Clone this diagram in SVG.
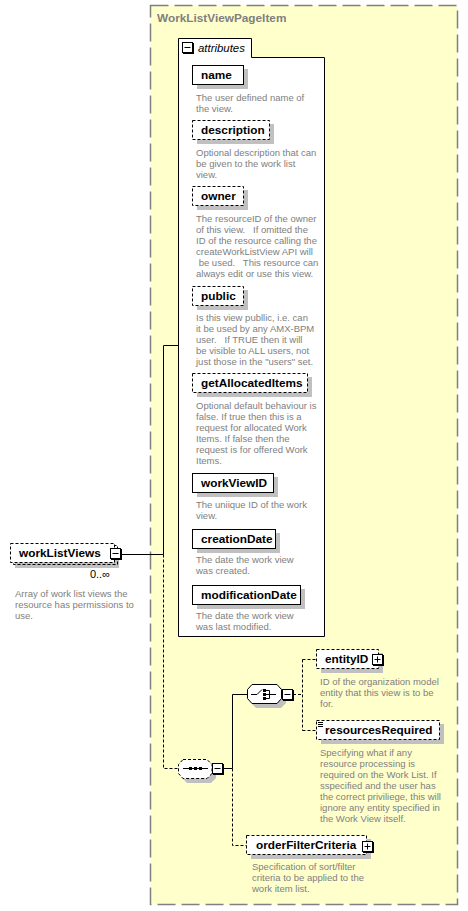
<svg xmlns="http://www.w3.org/2000/svg" xmlns:xlink="http://www.w3.org/1999/xlink" width="468" height="911" viewBox="0 0 468 911">
<style>
.lbl{font-family:"Liberation Sans",Arial,sans-serif;font-weight:bold;font-size:11.8px;fill:#000}
.desc{font-family:"Liberation Sans",Arial,sans-serif;font-size:9.5px;fill:#808080;white-space:pre}
.box{fill:#fff;stroke:#000;stroke-width:1}
.opt{stroke-dasharray:3,2}
.shadow{fill:#c0c0c0;stroke:none}
.ln{stroke:#000;fill:none}
.dln{stroke:#000;fill:none;stroke-dasharray:3,2}
</style>
<defs>
<g id="minus"><rect x="1" y="1" width="11" height="11" fill="#000"/><rect x="0.5" y="0.5" width="10" height="10" fill="#fff" stroke="#000"/><path d="M2.5,5.5H8.5" stroke="#000"/></g>
<g id="plus"><rect x="1" y="1" width="11" height="11" fill="#000"/><rect x="0.5" y="0.5" width="10" height="10" fill="#fff" stroke="#000"/><path d="M2.5,5.5H8.5M5.5,2.5V8.5" stroke="#000"/></g>
</defs>
<rect width="468" height="911" fill="#fff"/>
<g id="WorkListViewPageItem">
<rect x="150.5" y="5.5" width="307" height="899" fill="#FFFFCC" stroke="#808080" stroke-width="1.5" stroke-dasharray="18,6"/>
<text x="157" y="22" font-family="Liberation Sans,Arial,sans-serif" font-weight="bold" font-size="11.8" fill="#808080">WorkListViewPageItem</text>
</g>
<g id="connectors">
<path class="ln" d="M121,554.5H163.5V345.5H178"/>
<path class="dln" d="M163.5,554.5V768.5H178"/>
<path class="ln" d="M223,768.5H232.5V694.5H247"/>
<path class="dln" d="M232.5,768.5V845.5H247"/>
<path class="dln" d="M293,694.5H302.5M302.5,659.5V730.5M302.5,659.5H317M302.5,730.5H317"/>
</g>
<g id="attributes">
<path class="box" d="M178.5,636.5V38.5H251.5V57.5H324.5V636.5Z"/>
<use xlink:href="#minus" x="182" y="42"/>
<text x="198" y="52" font-family="Liberation Sans,Arial,sans-serif" font-style="italic" font-size="11.4" fill="#000">attributes</text>
</g>
<g id="attr-name">
<rect class="shadow" x="197" y="69" width="51" height="20"/>
<rect class="box" x="192.5" y="65.5" width="51" height="19"/>
<text class="lbl" x="201" y="79">name</text>
<text class="desc" x="196" y="100.5">The user defined name of</text>
<text class="desc" x="196" y="111.5">the view.</text>
</g>
<g id="attr-description">
<rect class="shadow" x="197" y="124" width="77" height="20"/>
<rect class="box opt" x="192.5" y="120.5" width="77" height="19"/>
<text class="lbl" x="201" y="134">description</text>
<text class="desc" x="196" y="155.5">Optional description that can</text>
<text class="desc" x="196" y="166.5">be given to the work list</text>
<text class="desc" x="196" y="177.5">view.</text>
</g>
<g id="attr-owner">
<rect class="shadow" x="197" y="190" width="51" height="20"/>
<rect class="box opt" x="192.5" y="186.5" width="51" height="19"/>
<text class="lbl" x="201" y="200">owner</text>
<text class="desc" x="196" y="221.5">The resourceID of the owner</text>
<text class="desc" x="196" y="232.5" xml:space="preserve">of this view.   If omitted the</text>
<text class="desc" x="196" y="243.5">ID of the resource calling the</text>
<text class="desc" x="196" y="254.5">createWorkListView API will</text>
<text class="desc" x="196" y="265.5" xml:space="preserve"> be used.   This resource can</text>
<text class="desc" x="196" y="276.5">always edit or use this view.</text>
</g>
<g id="attr-public">
<rect class="shadow" x="197" y="290" width="51" height="20"/>
<rect class="box opt" x="192.5" y="286.5" width="51" height="19"/>
<text class="lbl" x="201" y="300">public</text>
<text class="desc" x="196" y="320.5">Is this view publlic, i.e. can</text>
<text class="desc" x="196" y="331.5">it be used by any AMX-BPM</text>
<text class="desc" x="196" y="342.5" xml:space="preserve">user.   If TRUE then it will</text>
<text class="desc" x="196" y="353.5">be visible to ALL users, not</text>
<text class="desc" x="196" y="364.5">just those in the "users" set.</text>
</g>
<g id="attr-getAllocatedItems">
<rect class="shadow" x="197" y="377" width="115" height="20"/>
<rect class="box opt" x="192.5" y="373.5" width="115" height="19"/>
<text class="lbl" x="201" y="387">getAllocatedItems</text>
<text class="desc" x="196" y="408.5">Optional default behaviour is</text>
<text class="desc" x="196" y="419.5">false. If true then this is a</text>
<text class="desc" x="196" y="430.5">request for allocated Work</text>
<text class="desc" x="196" y="441.5">Items. If false then the</text>
<text class="desc" x="196" y="452.5">request is for offered Work</text>
<text class="desc" x="196" y="463.5">Items.</text>
</g>
<g id="attr-workViewID">
<rect class="shadow" x="197" y="477" width="81" height="20"/>
<rect class="box" x="192.5" y="473.5" width="81" height="19"/>
<text class="lbl" x="201" y="487">workViewID</text>
<text class="desc" x="196" y="507.5">The uniique ID of the work</text>
<text class="desc" x="196" y="518.5">view.</text>
</g>
<g id="attr-creationDate">
<rect class="shadow" x="197" y="533" width="83" height="20"/>
<rect class="box" x="192.5" y="529.5" width="83" height="19"/>
<text class="lbl" x="201" y="543">creationDate</text>
<text class="desc" x="196" y="563">The date the work view</text>
<text class="desc" x="196" y="574">was created.</text>
</g>
<g id="attr-modificationDate">
<rect class="shadow" x="197" y="589" width="108" height="20"/>
<rect class="box" x="192.5" y="585.5" width="108" height="19"/>
<text class="lbl" x="201" y="599">modificationDate</text>
<text class="desc" x="196" y="618.5">The date the work view</text>
<text class="desc" x="196" y="629.5">was last modified.</text>
</g>
<g id="workListViews">
<rect class="shadow" x="15" y="548" width="104" height="20"/>
<rect x="13.5" y="545.5" width="104" height="19" fill="none" stroke="#000" stroke-dasharray="3,2"/>
<rect class="box opt" x="10.5" y="543.5" width="104" height="19"/>
<text class="lbl" x="19" y="557">workListViews</text>
<use xlink:href="#minus" x="110" y="548"/>
<text x="110" y="578" text-anchor="end" font-family="Liberation Sans,Arial,sans-serif" font-size="11" fill="#000">0..∞</text>
<text class="desc" x="15" y="596.5">Array of work list views the</text>
<text class="desc" x="15" y="607.5">resource has permissions to</text>
<text class="desc" x="15" y="618.5">use.</text>
</g>
<g id="sequence">
<path class="shadow" d="M187,763H211L216,768V778L211,783H187L182,778V768Z"/>
<path class="box opt" d="M183,759.5H207L212,764.5V773.5L207,778.5H183L178.5,773.5V764.5Z"/>
<path class="ln" d="M183,768.5H208"/>
<rect x="189" y="767" width="3" height="3" fill="#000"/>
<rect x="194" y="767" width="3" height="3" fill="#000"/>
<rect x="199" y="767" width="3" height="3" fill="#000"/>
<use xlink:href="#minus" x="212" y="763"/>
</g>
<g id="choice">
<path class="shadow" d="M256,688H281L286,693V703L281,708H256L251,703V693Z"/>
<path class="box" d="M252,684.5H277L281.5,689.5V698.5L277,703.5H252L247.5,698.5V689.5Z"/>
<path class="ln" d="M251,694.5H257L262,689.5"/>
<rect x="263" y="689" width="3" height="3" fill="#000"/>
<rect x="263" y="693" width="3" height="3" fill="#000"/>
<rect x="263" y="697" width="3" height="3" fill="#000"/>
<path class="ln" d="M266,690.5H269.5V698.5H266M266,694.5H276"/>
<use xlink:href="#minus" x="282" y="689"/>
</g>
<g id="entityID">
<rect class="shadow" x="321" y="653" width="62" height="20"/>
<rect class="box opt" x="316.5" y="649.5" width="62" height="19"/>
<text class="lbl" x="325" y="663">entityID</text>
<use xlink:href="#plus" x="372" y="654"/>
<text class="desc" x="320" y="685">ID of the organization model</text>
<text class="desc" x="320" y="696">entity that this view is to be</text>
<text class="desc" x="320" y="707">for.</text>
</g>
<g id="resourcesRequired">
<rect class="shadow" x="321" y="724" width="123" height="20"/>
<rect class="box opt" x="316.5" y="720.5" width="123" height="19"/>
<path class="ln" d="M318,722.5H323M318,724.5H323M318,726.5H323"/>
<text class="lbl" x="325" y="734">resourcesRequired</text>
<text class="desc" x="320" y="756">Specifying what if any</text>
<text class="desc" x="320" y="767">resource processing is</text>
<text class="desc" x="320" y="778">required on the Work List. If</text>
<text class="desc" x="320" y="789">sspecified and the user has</text>
<text class="desc" x="320" y="800">the correct priviliege, this will</text>
<text class="desc" x="320" y="811">ignore any entity specified in</text>
<text class="desc" x="320" y="822">the Work View itself.</text>
</g>
<g id="orderFilterCriteria">
<rect class="shadow" x="251" y="839" width="120" height="20"/>
<rect class="box opt" x="246.5" y="835.5" width="120" height="19"/>
<text class="lbl" x="256" y="849">orderFilterCriteria</text>
<use xlink:href="#plus" x="362" y="841"/>
<text class="desc" x="252" y="870">Specification of sort/filter</text>
<text class="desc" x="252" y="881">criteria to be applied to the</text>
<text class="desc" x="252" y="892">work item list.</text>
</g>
</svg>
